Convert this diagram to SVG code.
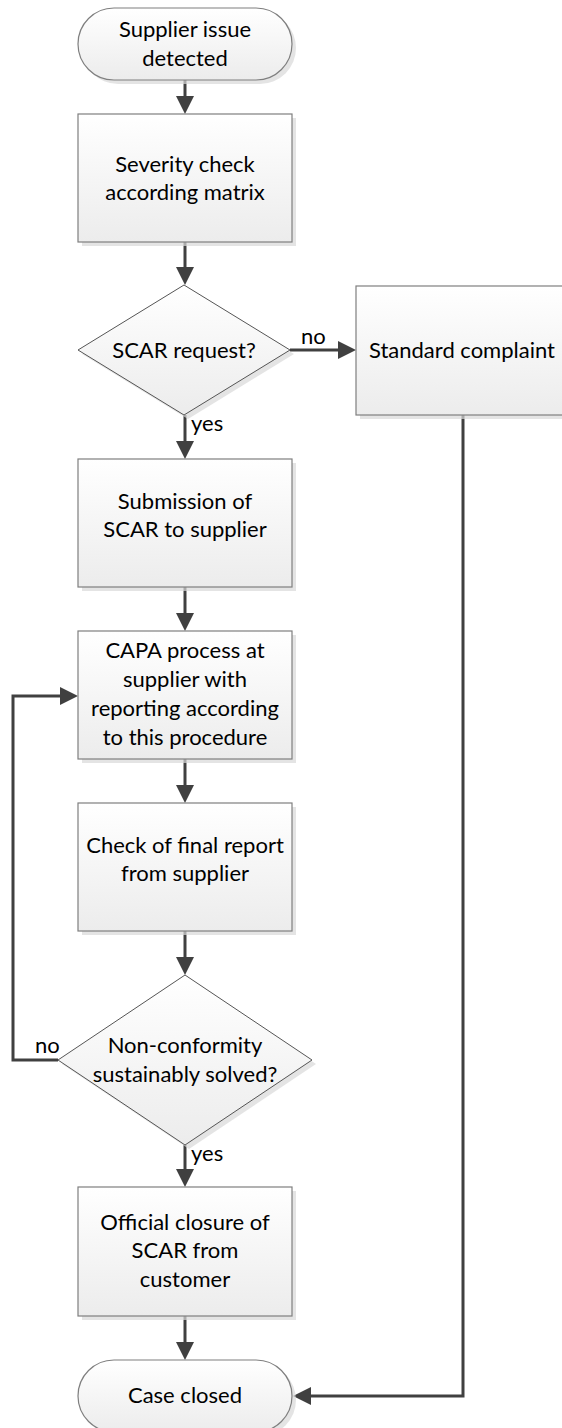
<svg xmlns="http://www.w3.org/2000/svg" width="562" height="1428" viewBox="0 0 562 1428">
<style>
.shape{fill:url(#g);stroke:#7f7f7f;stroke-width:1.2}
.dia{fill:url(#g);stroke:#555;stroke-width:1}
.sh{fill:#d9d9d9;opacity:0.7}
text{font-family:Lato,"Liberation Sans",sans-serif;font-size:22px;fill:#000;text-anchor:middle}
.lbl{text-anchor:start}
.c{fill:none;stroke:#404040;stroke-width:3;marker-end:url(#ah)}
.cn{fill:none;stroke:#404040;stroke-width:3}
</style>
<defs>
<linearGradient id="g" x1="0" y1="0" x2="0" y2="1">
<stop offset="0" stop-color="#ffffff"/>
<stop offset="1" stop-color="#ececec"/>
</linearGradient>
<marker id="ah" markerUnits="userSpaceOnUse" markerWidth="20" markerHeight="20" refX="14" refY="9" orient="auto" viewBox="0 0 20 20">
<path d="M0,0 L18,9 L0,18 z" fill="#404040"/>
</marker>
</defs>
<rect width="562" height="1428" fill="#fff"/>
<g id="connectors">
<path class="c" d="M185,80 V110"/>
<path class="c" d="M185,242 V281"/>
<path class="c" d="M290,350 H352"/>
<path class="c" d="M185,415 V455"/>
<path class="c" d="M185,587 V627"/>
<path class="c" d="M185,759 V799"/>
<path class="c" d="M185,931 V971"/>
<path class="c" d="M185,1145 V1183"/>
<path class="c" d="M185,1316 V1356"/>
<path class="c" d="M58,1060 H13 V696 H74"/>
<path class="c" d="M463,415 V1396 H297"/>
<text class="lbl" x="301" y="344">no</text>
<text class="lbl" x="191" y="431">yes</text>
<text class="lbl" x="35" y="1053">no</text>
<text class="lbl" x="191" y="1161">yes</text>
</g>
<g id="start">
<rect class="sh" x="82" y="12" width="214" height="72" rx="36"/>
<rect class="shape" x="78" y="8" width="214" height="72" rx="36"/>
<text x="185" y="37">Supplier issue</text>
<text x="185" y="66">detected</text>
</g>
<g id="severity">
<rect class="sh" x="82" y="118" width="214" height="128"/>
<rect class="shape" x="78" y="114" width="214" height="128"/>
<text x="185" y="172">Severity check</text>
<text x="185" y="200">according matrix</text>
</g>
<g id="scar-request">
<polygon class="sh" points="188,289 294,354 188,419 82,354"/>
<polygon class="dia" points="184,285 290,350 184,415 78,350"/>
<text x="184" y="358">SCAR request?</text>
</g>
<g id="standard-complaint">
<rect class="sh" x="360" y="290" width="212" height="129"/>
<rect class="shape" x="356" y="286" width="212" height="129"/>
<text x="462" y="358">Standard complaint</text>
</g>
<g id="submission">
<rect class="sh" x="82" y="463" width="214" height="128"/>
<rect class="shape" x="78" y="459" width="214" height="128"/>
<text x="185" y="509">Submission of</text>
<text x="185" y="537">SCAR to supplier</text>
</g>
<g id="capa">
<rect class="sh" x="82" y="635" width="214" height="128"/>
<rect class="shape" x="78" y="631" width="214" height="128"/>
<text x="185" y="658">CAPA process at</text>
<text x="185" y="687">supplier with</text>
<text x="185" y="716">reporting according</text>
<text x="185" y="745">to this procedure</text>
</g>
<g id="check-report">
<rect class="sh" x="82" y="807" width="214" height="128"/>
<rect class="shape" x="78" y="803" width="214" height="128"/>
<text x="185" y="853">Check of final report</text>
<text x="185" y="881">from supplier</text>
</g>
<g id="nonconformity">
<polygon class="sh" points="189,979 316,1064 189,1149 62,1064"/>
<polygon class="dia" points="185,975 312,1060 185,1145 58,1060"/>
<text x="185" y="1053">Non-conformity</text>
<text x="185" y="1082">sustainably solved?</text>
</g>
<g id="official-closure">
<rect class="sh" x="82" y="1191" width="214" height="129"/>
<rect class="shape" x="78" y="1187" width="214" height="129"/>
<text x="185" y="1230">Official closure of</text>
<text x="185" y="1258">SCAR from</text>
<text x="185" y="1287">customer</text>
</g>
<g id="end">
<rect class="sh" x="82" y="1364" width="214" height="72" rx="36"/>
<rect class="shape" x="78" y="1360" width="214" height="72" rx="36"/>
<text x="185" y="1403">Case closed</text>
</g>
</svg>
